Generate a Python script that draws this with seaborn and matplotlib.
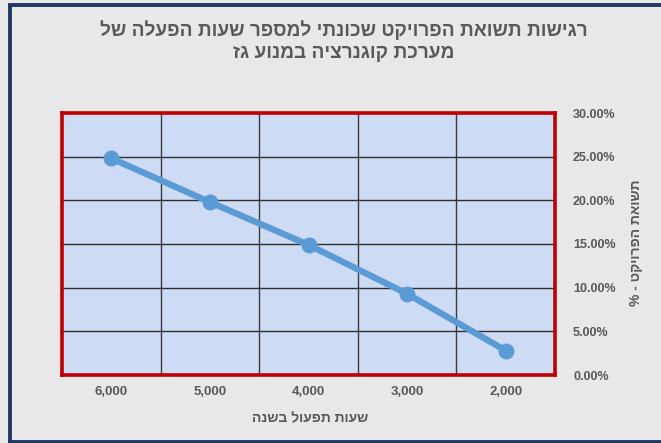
import matplotlib
matplotlib.use("Agg")
import matplotlib.pyplot as plt
from matplotlib.lines import Line2D
from matplotlib.ticker import FixedLocator, PercentFormatter
import seaborn as sns
import pandas as pd

# Operating hours per year (categories, as shown left to right)
hours = ["6,000", "5,000", "4,000", "3,000", "2,000"]
# Project return for each operating level (%)
returns = [24.8, 19.8, 14.9, 9.3, 2.8]

title_text = "רגישות תשואת הפרויקט שכונתי למספר שעות הפעלה של\nמערכת קוגנרציה במנוע גז"
xlabel_text = "שעות תפעול בשנה"
ylabel_text = "תשואת הפרויקט - %"


def visual(s):
    """Hebrew is drawn right-to-left: reverse each line for left-to-right rendering."""
    return "\n".join(line[::-1] for line in s.split("\n"))


sns.set_theme(style="white")
plt.rcParams["font.family"] = ["Liberation Sans", "DejaVu Sans"]

df = pd.DataFrame({"hours": hours, "ret": returns})

W, H = 661, 443
BG = "#E8E8E8"
fig = plt.figure(figsize=(W / 100, H / 100), dpi=100)
fig.patch.set_facecolor(BG)
fig.patch.set_linewidth(0)

# chart-area frame: left, top and bottom edges (the right edge lies past the canvas)
frame = dict(color="#1F3864", linewidth=2.8, transform=fig.transFigure,
             solid_capstyle="butt")
fig.lines.append(Line2D([9.5 / W, 9.5 / W], [0.0, 1 - 3.5 / H], **frame))
fig.lines.append(Line2D([8.1 / W, 1.0], [1 - 4.5 / H, 1 - 4.5 / H], **frame))
fig.lines.append(Line2D([8.1 / W, 1.0], [1.5 / H, 1.5 / H], **frame))

ax = fig.add_axes([62 / W, 1 - 375 / H, 493 / W, 262 / H])
ax.set_facecolor("#CDDBF4")

sns.pointplot(data=df, x="hours", y="ret", order=hours, ax=ax,
              color="#5B9BD5", errorbar=None, markers="o",
              linewidth=4.6, markersize=8, zorder=5)

ax.set_xlim(-0.5, len(hours) - 0.5)
ax.set_ylim(0, 30)
ax.yaxis.set_major_locator(FixedLocator([0, 5, 10, 15, 20, 25, 30]))
ax.yaxis.set_major_formatter(PercentFormatter(decimals=2))
ax.xaxis.set_minor_locator(FixedLocator([i + 0.5 for i in range(len(hours) - 1)]))

ax.grid(False)
ax.grid(True, which="major", axis="y", color="#2E2E2E", linewidth=1.0, zorder=1)
ax.grid(True, which="minor", axis="x", color="#3A3A3A", linewidth=1.0, zorder=1)
ax.set_axisbelow(True)

ax.yaxis.tick_right()
ax.tick_params(axis="y", which="both", length=0, pad=13, labelsize=9,
               labelcolor="#595959")
ax.tick_params(axis="x", which="both", length=0, pad=8, labelsize=9.5,
               labelcolor="#595959")
for lbl in ax.get_xticklabels() + ax.get_yticklabels():
    lbl.set_fontweight("bold")

for sp in ax.spines.values():
    sp.set_visible(True)
    sp.set_color("#C00000")
    sp.set_linewidth(2.6)
    sp.set_zorder(6)

ax.set_xlabel("")
ax.set_ylabel("")

fig.text(344 / W, 1 - 41 / H, visual(title_text), ha="center", va="center",
         fontsize=13.8, fontweight="bold", color="#595959", linespacing=1.35)
fig.text(310 / W, 1 - 418 / H, visual(xlabel_text), ha="center", va="center",
         fontsize=10, fontweight="bold", color="#595959")
fig.text(636 / W, 1 - 243 / H, visual(ylabel_text), ha="center", va="center",
         rotation=90, fontsize=10, fontweight="bold", color="#595959")

fig.savefig("out.png", dpi=100, facecolor=fig.get_facecolor())
